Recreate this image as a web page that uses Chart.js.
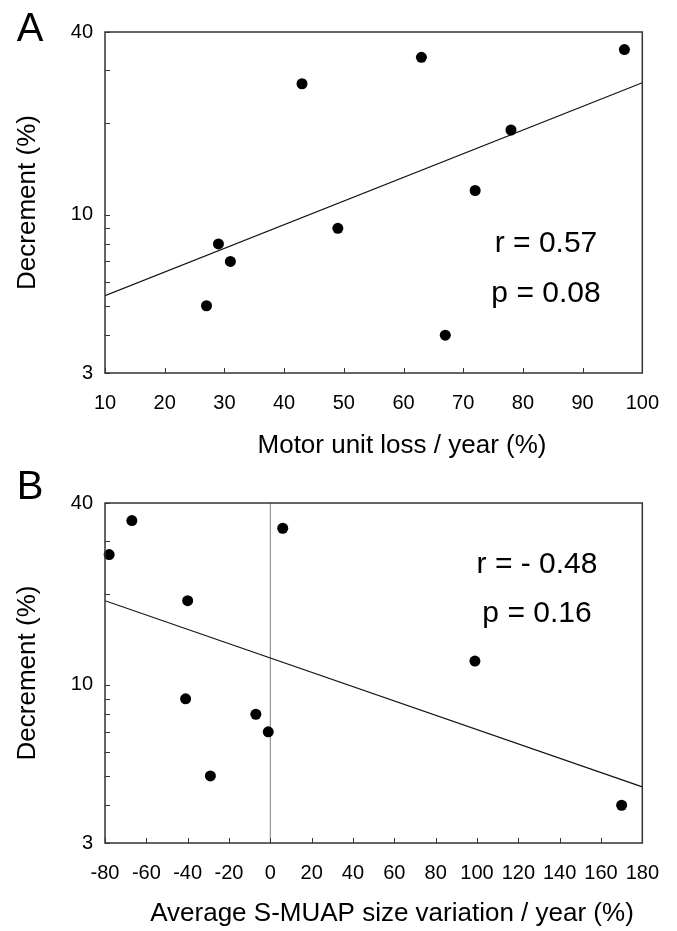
<!DOCTYPE html>
<html>
<head>
<meta charset="utf-8">
<script src="https://cdn.jsdelivr.net/npm/chart.js@4.4.1/dist/chart.umd.min.js"></script>
<style>
  body { margin: 0; background: #fff; }
  .panel { position: absolute; left: 0; width: 677px; }
</style>
</head>
<body>
<div class="panel" style="top:0;height:465px"><canvas id="chartA" width="677" height="465"></canvas></div>
<div class="panel" style="top:465px;height:466px"><canvas id="chartB" width="677" height="466"></canvas></div>
<script>
// Decrement (%) for each patient, same order in both panels
const decrement = [5.0, 8.0, 7.0, 27, 9.0, 33, 4.0, 12, 19, 35];
// Panel A : motor unit loss / year (%)
const motorUnitLoss = [27, 29, 31, 43, 49, 63, 67, 72, 78, 97];
// Panel B : average S-MUAP size variation / year (%)
const smuapVariation = [-29, -7, -1, -78, -41, 6, 170, 99, -40, -67];

// regression lines (end points)
const fitA_x = [10, 100];
const fitA_y = [5.4, 27.2];
const fitB_x = [-80, 180];
const fitB_y = [19, 4.6];
// zero line of panel B
const zeroLine_x = [0, 0];
const zeroLine_y = [3, 40];

// ticks
const xTicksA = [10, 20, 30, 40, 50, 60, 70, 80, 90, 100];
const xTicksB = [-80, -60, -40, -20, 0, 20, 40, 60, 80, 100, 120, 140, 160, 180];
const yTicks = [3, 4, 5, 6, 7, 8, 9, 10, 20, 30, 40];
const yLabels = [3, 10, 40];

const yTitle = "Decrement (%)";
const xTitleA = "Motor unit loss / year (%)";
const xTitleB = "Average S-MUAP size variation / year (%)";
const statsA = ["r = 0.57", "p = 0.08"];
const statsB = ["r = - 0.48", "p = 0.16"];

const FONT = '"Liberation Sans", Arial, Helvetica, sans-serif';

const pts = (xs, ys) => xs.map((x, i) => ({ x: x, y: ys[i] }));

// box round the plot + small ticks pointing inside
const insideTicks = {
    id: "insideTicks",
    afterDatasetsDraw(chart) {
        const ctx = chart.ctx;
        const a = chart.chartArea;
        const x = chart.scales.x;
        const y = chart.scales.y;
        ctx.save();
        ctx.strokeStyle = "#333";
        ctx.lineWidth = 1;
        ctx.beginPath();
        x.ticks.forEach(t => {
            const px = Math.round(x.getPixelForValue(t.value)) + 0.5;
            ctx.moveTo(px, a.bottom);
            ctx.lineTo(px, a.bottom - 5);
        });
        y.ticks.forEach(t => {
            const py = Math.round(y.getPixelForValue(t.value)) + 0.5;
            ctx.moveTo(a.left, py);
            ctx.lineTo(a.left + 5, py);
        });
        ctx.stroke();
        ctx.lineWidth = 1.5;
        ctx.strokeRect(a.left, a.top, a.right - a.left, a.bottom - a.top);
        ctx.restore();
    }
};

// panel letter, r / p values and x axis title
const panelText = {
    id: "panelText",
    afterDraw(chart, args, opts) {
        const ctx = chart.ctx;
        ctx.save();
        ctx.fillStyle = "#000";
        ctx.textAlign = "center";
        ctx.textBaseline = "alphabetic";
        ctx.font = "40px " + FONT;
        ctx.fillText(opts.letter, 30, opts.letterY);
        ctx.font = "30px " + FONT;
        opts.stats.forEach((s, i) => ctx.fillText(s, opts.statsX, opts.statsY[i]));
        ctx.font = "26px " + FONT;
        ctx.textBaseline = "middle";
        ctx.fillText(opts.xTitle, opts.xTitleX, opts.xTitleY);
        ctx.restore();
    }
};

function makeOptions(xMin, xMax, xTicks, padTop, xHeight, text) {
    return {
        responsive: false,
        animation: false,
        layout: { padding: { top: padTop, right: 30, left: 0, bottom: 0 } },
        scales: {
            x: {
                type: "linear",
                min: xMin,
                max: xMax,
                afterBuildTicks: s => { s.ticks = xTicks.map(v => ({ value: v })); },
                afterFit: s => { s.height = xHeight; },
                grid: { display: false, drawTicks: false },
                border: { display: false },
                ticks: { color: "#000", padding: 18, maxRotation: 0, autoSkip: false,
                         font: { family: FONT, size: 20 } }
            },
            y: {
                type: "logarithmic",
                min: 3,
                max: 40,
                afterBuildTicks: s => { s.ticks = yTicks.map(v => ({ value: v })); },
                afterFit: s => { s.width = 105; },
                grid: { display: false, drawTicks: false },
                border: { display: false },
                ticks: {
                    color: "#000", padding: 12, autoSkip: false,
                    font: { family: FONT, size: 20 },
                    callback: v => yLabels.includes(v) ? String(v) : ""
                },
                title: { display: true, text: yTitle, color: "#000",
                         padding: { top: 12, bottom: 0 },
                         font: { family: FONT, size: 26 } }
            }
        },
        plugins: {
            legend: { display: false },
            tooltip: { enabled: false },
            panelText: text
        }
    };
}

const ctxA = document.getElementById("chartA");
const ctxB = document.getElementById("chartB");

// Panel A
new Chart(ctxA, {
    type: "scatter",
    data: {
        datasets: [{
            data: pts(motorUnitLoss, decrement),
            backgroundColor: "#000",
            borderWidth: 0,
            pointRadius: 5.5,
            clip: false
        }, {
            data: pts(fitA_x, fitA_y),
            showLine: true,
            borderColor: "#111",
            borderWidth: 1.2,
            pointRadius: 0
        }]
    },
    options: makeOptions(10, 100, xTicksA, 32, 92, {
        letter: "A", letterY: 41,
        stats: statsA, statsX: 546, statsY: [252, 302],
        xTitle: xTitleA, xTitleX: 402, xTitleY: 446
    }),
    plugins: [insideTicks, panelText]
});

// Panel B
new Chart(ctxB, {
    type: "scatter",
    data: {
        datasets: [{
            data: pts(smuapVariation, decrement),
            backgroundColor: "#000",
            borderWidth: 0,
            pointRadius: 5.5,
            clip: false
        }, {
            data: pts(fitB_x, fitB_y),
            showLine: true,
            borderColor: "#111",
            borderWidth: 1.2,
            pointRadius: 0
        }, {
            data: pts(zeroLine_x, zeroLine_y),
            showLine: true,
            borderColor: "#808080",
            borderWidth: 1,
            pointRadius: 0
        }]
    },
    options: makeOptions(-80, 180, xTicksB, 38, 88, {
        letter: "B", letterY: 34,
        stats: statsB, statsX: 537, statsY: [108, 157],
        xTitle: xTitleB, xTitleX: 392, xTitleY: 449
    }),
    plugins: [insideTicks, panelText]
});
</script>
</body>
</html>
